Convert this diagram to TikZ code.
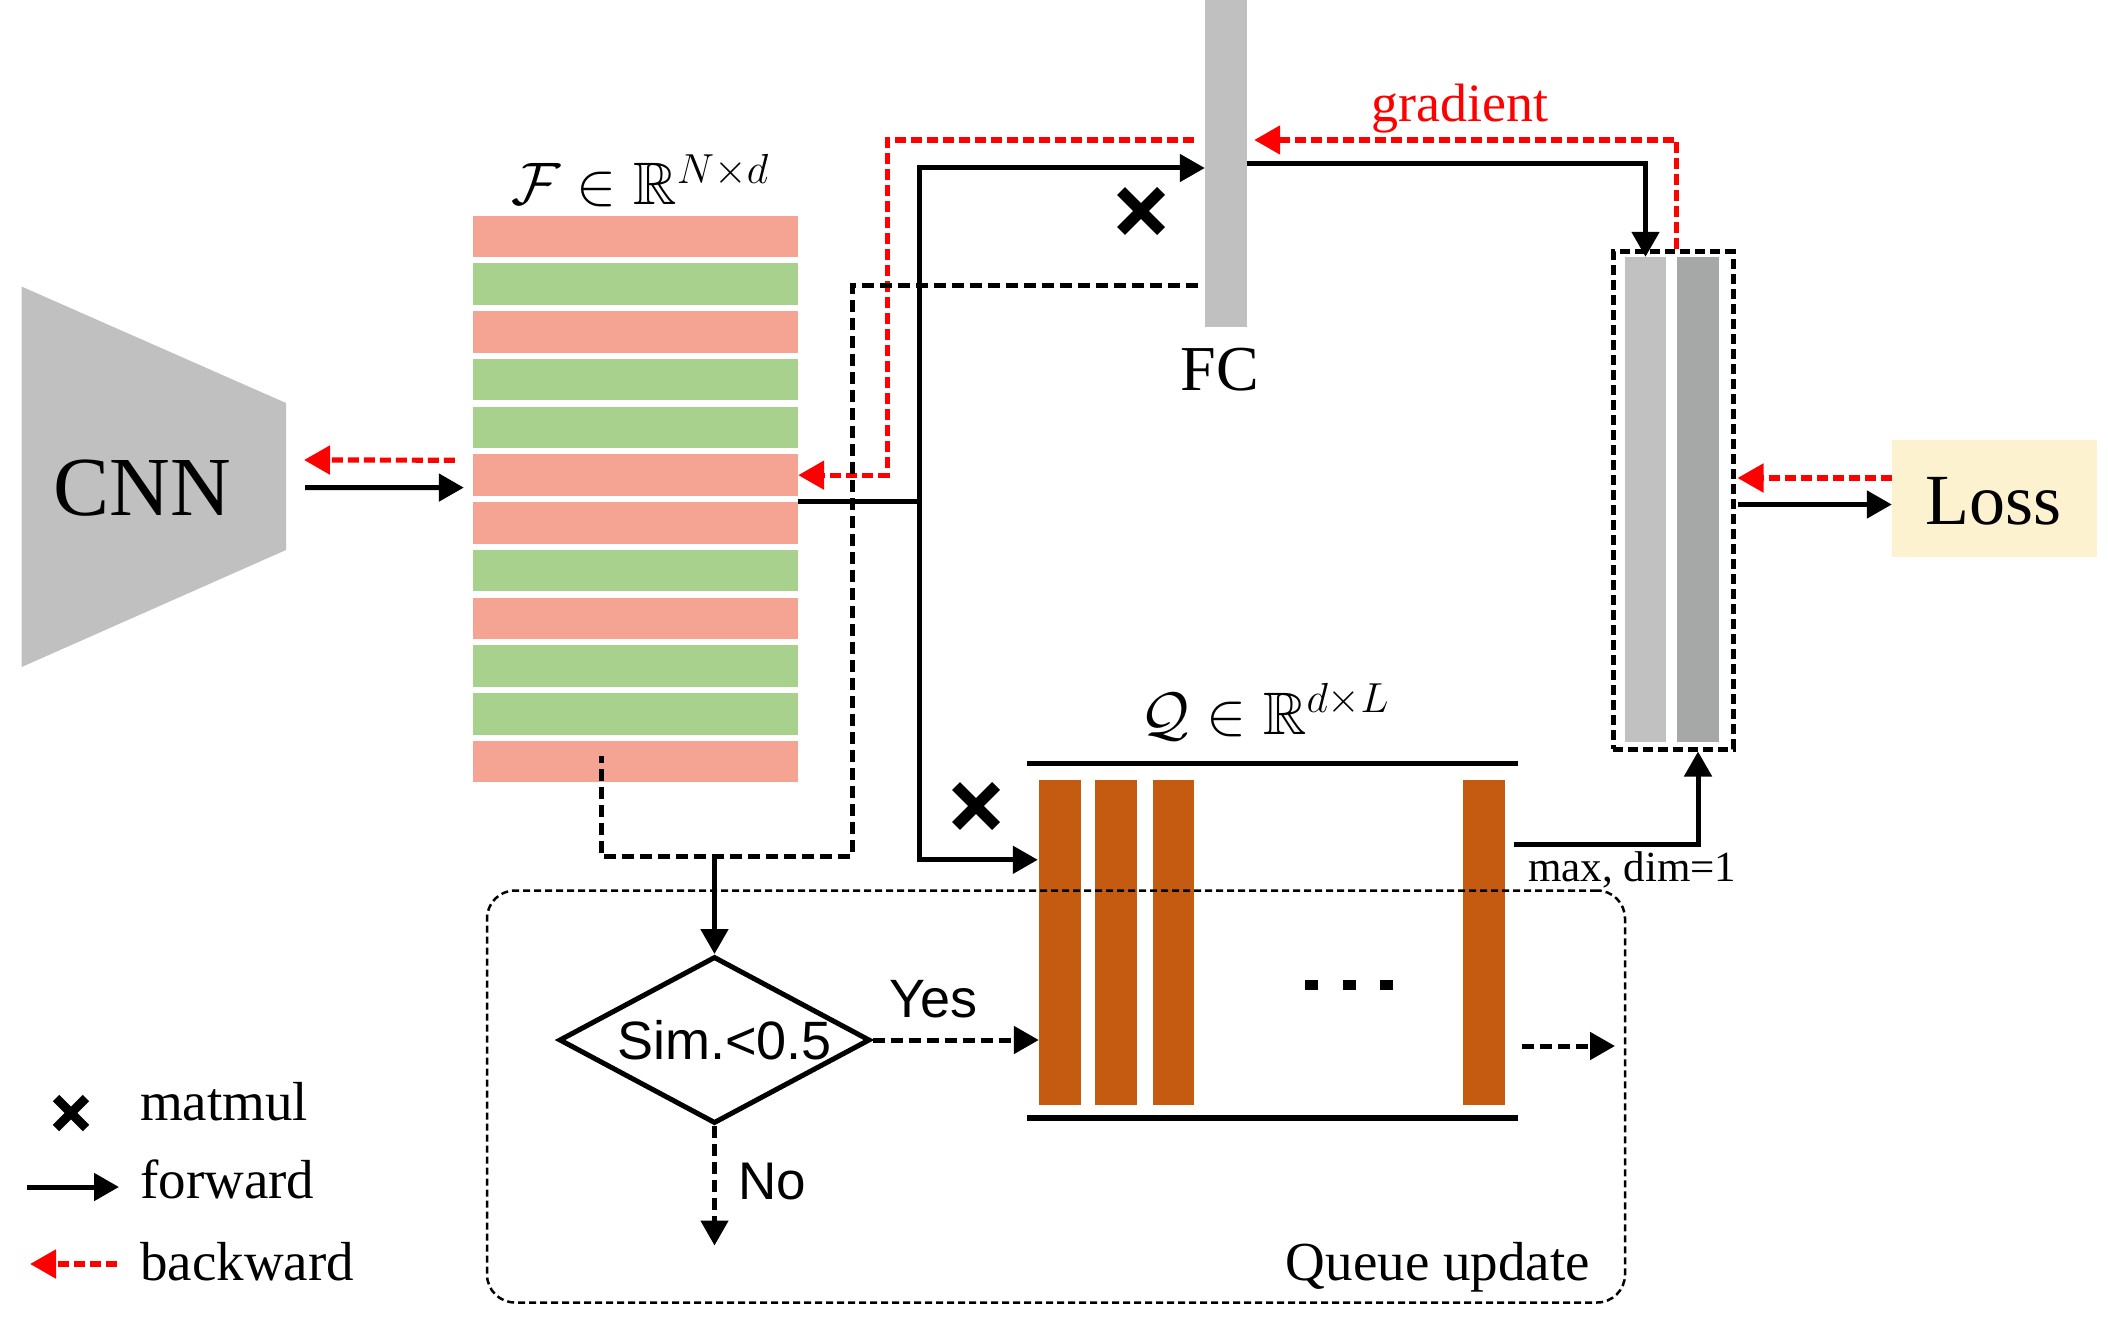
\RequirePackage{fix-cm}
\documentclass[tikz,border=0pt]{standalone}
\usepackage{amssymb}
\usepackage{fontspec}
\setmainfont{Liberation Serif}
\newfontfamily\arialf{Liberation Sans}
\usetikzlibrary{arrows.meta,shapes.geometric,calc}
\definecolor{cpink}{HTML}{F5A392}
\definecolor{cgreen}{HTML}{A9D18E}
\definecolor{cfc}{HTML}{BFC0BF}
\definecolor{cbarA}{HTML}{C0C1C0}
\definecolor{cbarB}{HTML}{A6A7A7}
\definecolor{corange}{HTML}{C55A11}
\definecolor{closs}{HTML}{FDF2D0}
\definecolor{cred}{HTML}{FF0000}
\newcommand\myfs[1]{\fontsize{#1}{#1}\selectfont}
\begin{document}
\begin{tikzpicture}[x=1pt,y=-1pt,
  fwd/.style={line width=5pt,-{Triangle[length=25pt,width=27pt]}},
  bwd/.style={color=cred,line width=5.2pt,dash pattern=on 11pt off 5pt,-{Triangle[length=26pt,width=28pt]}},
  dsh/.style={line width=5pt,dash pattern=on 12pt off 6pt},
  cell/.style={inner sep=0pt,minimum width=325pt,minimum height=41.5pt},
  qbar/.style={inner sep=0pt,fill=corange,minimum height=325pt},
  gbar/.style={inner sep=0pt,minimum height=485pt},
  txt/.style={inner sep=0pt,font=\myfs{#1}},
  sanstxt/.style={inner sep=0pt,font=\arialf\myfs{#1}},
  xmark/.style={line width=#1,line cap=butt}]
\useasboundingbox (0,0) rectangle (2108,1329);

% CNN
\fill[cfc] (21.7,286.6) -- (286,403) -- (286,550) -- (21.7,667) -- cycle;
\node[txt=84,anchor=base] (cnn) at (142,515.6) {CNN};

% feature rows
\foreach \i/\c in {1/cpink,2/cgreen,3/cpink,4/cgreen,5/cgreen,6/cpink,7/cpink,8/cgreen,9/cpink,10/cgreen,11/cgreen,12/cpink}
  \node[cell,fill=\c] (f\i) at (635.5,{236.35+(\i-1)*47.76}) {};
\node[txt=60,anchor=base] (flab) at (640,205) {$\mathcal{F}\in\mathbb{R}^{N\times d}$};

% FC
\node[inner sep=0pt,fill=cfc,minimum width=42pt,minimum height=327pt] (fc) at (1226,163.5) {};
\node[txt=64,anchor=base] (fclab) at (1220,390.6) {FC};
\node[txt=54,anchor=base,text=cred] (grad) at (1460,121.5) {gradient};

% score box
\node[gbar,fill=cbarA,minimum width=41pt] (b1) at (1645.5,499.5) {};
\node[gbar,fill=cbarB,minimum width=42pt] (b2) at (1698,499.5) {};
\node[draw,line width=5pt,dash pattern=on 10pt off 5pt,inner sep=0pt,minimum width=120pt,minimum height=497pt] (box) at (1673,500.5) {};

% Loss
\node[fill=closs,inner sep=0pt,minimum width=205pt,minimum height=117pt] (loss) at (1994.5,498.5) {};
\node[txt=72,anchor=base] (losslab) at (1993,524.5) {Loss};

% queue
\node[qbar,minimum width=42pt] (q1) at (1060,942.5) {};
\node[qbar,minimum width=42pt] (q2) at (1116,942.5) {};
\node[qbar,minimum width=41pt] (q3) at (1173.5,942.5) {};
\node[qbar,minimum width=42pt] (q4) at (1484,942.5) {};
\draw[line width=5.5pt] (1027,763.5) -- (1518,763.5);
\draw[line width=5.5pt] (1027,1118) -- (1518,1118);
\fill (1305,980) rectangle (1318,990);
\fill (1343,980) rectangle (1356,990);
\fill (1379.5,980) rectangle (1392.5,990);
\node[txt=60,anchor=base] (qlab) at (1265,734.5) {$\mathcal{Q}\in\mathbb{R}^{d\times L}$};
\node[txt=43,anchor=base west] (maxlab) at (1528,881) {max, dim=1};

% queue update region
\node[draw,line width=2.5pt,dash pattern=on 7pt off 4pt,rounded corners=28pt,inner sep=0pt,minimum width=1138pt,minimum height=412pt] (qu) at (1056,1096.5) {};
\node[txt=55,anchor=base east] (qulab) at (1590,1280) {Queue update};

% decision
\node[draw,shape=diamond,aspect=1.86,line width=5pt,inner sep=0pt,minimum width=311pt,minimum height=167pt,font=\arialf\myfs{54}] (sim) at (714.5,1040) {\hspace*{20pt}Sim.<0.5};
\node[sanstxt=54,anchor=base west] (yes) at (889.5,1017) {Yes};
\node[sanstxt=53,anchor=base west] (no) at (738,1199) {No};

% matmul marks
\draw[xmark=11pt] (1121,191) -- (1161,231) (1121,231) -- (1161,191);
\draw[xmark=11pt] (956,786) -- (996,826) (956,826) -- (996,786);

% connectors
\coordinate (cnnout) at (305,487.5);
\coordinate (cnnin) at (304,460);
\draw[fwd] (cnnout) -- ($(f6.south west)+(-9,-8.5)$);
\draw[bwd] ($(f6.north west)+(-18,6)$) -- (cnnin);

\coordinate (jn) at ($(f7.north east)+(121,0)$);
\draw[line width=5pt] (f7.north east) -- (jn);
\draw[fwd] (jn) |- ($(fc.west)+(0,4.5)$);
\draw[fwd] (jn) |- ($(q1.north west)+(-1,80)$);

\coordinate (rc) at ($(f6.east)+(89,0)$);
\draw[bwd] ($(fc.west)+(-11,-23.5)$) -| (rc) -- (f6.east);

\coordinate (dj) at (852,856);
\coordinate (fstart) at ($(f12.center)+(-34.5,-6)$);
\draw[dsh] ($(fc.west)+(-7,122.5)$) -| (dj) -| (fstart);
\draw[fwd] (sim.north |- dj) -- (sim.north);

\draw[fwd,dash pattern=on 12pt off 6pt] (sim.east) -- (sim.east -| q1.west);
\coordinate (noend) at (714.5,1245.5);
\draw[fwd,dash pattern=on 12pt off 6pt] (sim.south) -- (noend);

\coordinate (qout1) at ($(q4.east)+(16.5,103.5)$);
\coordinate (qout2) at (1615,1046);
\draw[fwd,dash pattern=on 12pt off 6pt] (qout1) -- (qout2);

\draw[fwd] ($(fc.east)+(0,0.5)$) -| (b1.north);
\draw[bwd] ($(box.north)+(3.5,0)$) |- ($(fc.east)+(7,-23.5)$);

\coordinate (lossr) at ($(loss.west)+(0,-20.5)$);
\coordinate (boxr) at ($(box.east)+(2,-22.5)$);
\draw[bwd] (lossr) -- (boxr);
\draw[fwd] ($(box.east)+(2,4)$) -- ($(loss.west)+(0,6)$);

\draw[fwd] ($(q4.east)+(9,-98.5)$) -| (b2.center |- box.south);

% legend
\draw[xmark=9pt] (56,1098) -- (86,1128) (56,1128) -- (86,1098);
\node[txt=55,anchor=base west] (lg1) at (140,1120) {matmul};
\coordinate (lf1) at (27,1187);
\coordinate (lf2) at (119,1187);
\draw[fwd] (lf1) -- (lf2);
\node[txt=55,anchor=base west] (lg2) at (140,1198) {forward};
\coordinate (lb1) at (117,1264);
\coordinate (lb2) at (30,1264);
\draw[bwd] (lb1) -- (lb2);
\node[txt=55,anchor=base west] (lg3) at (140,1280) {backward};
\end{tikzpicture}
\end{document}
